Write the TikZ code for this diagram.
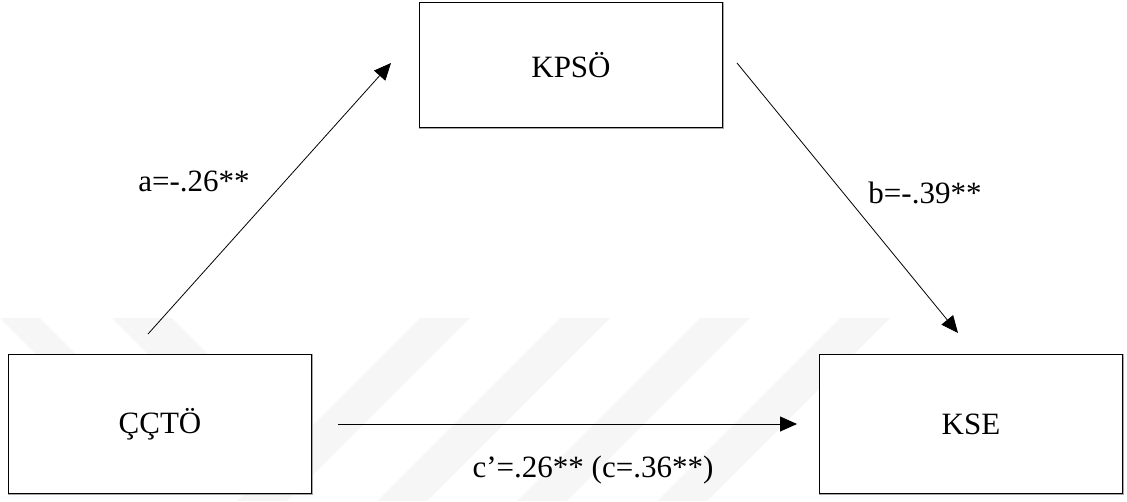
\documentclass[tikz,border=0pt]{standalone}
\usepackage{fontspec}
\setmainfont{Liberation Serif}
\usetikzlibrary{arrows.meta}
\begin{document}
\begin{tikzpicture}[x=1pt,y=-1pt,
  varbox/.style={draw=gray!70, line width=1pt, fill=white, minimum width=304pt, inner sep=0pt, font=\fontsize{31}{36}\selectfont},
  innerline/.style={draw=black, line width=0.7pt},
  conn/.style={line width=0.8pt, -{Triangle[length=17pt,width=15pt]}},
  lbl/.style={font=\fontsize{31}{36}\selectfont, inner sep=0pt},
  wm/.style={fill=gray!7, draw=none}]
\useasboundingbox (0,0) rectangle (1127,501);
% faint watermark stripes
\foreach \x in {420,560,700,840}
  \fill[wm] (\x,318) -- ++(50,0) -- ++(-183,183) -- ++(-50,0) -- cycle;
\fill[wm] (0,318) -- (40,318) -- (76,354) -- (36,354) -- cycle;
\fill[wm] (112,318) -- (172,318) -- (208,354) -- (148,354) -- cycle;
% boxes
\node[varbox, minimum height=126pt] (m) at (571,65) {KPSÖ};
\node[varbox, minimum height=140pt] (x) at (160,424) {ÇÇTÖ};
\node[varbox, minimum height=140pt] (y) at (971,424) {KSE};
\foreach \n in {m,x,y}
  \draw[innerline] ([shift={(1.3,1.3)}]\n.north west) rectangle ([shift={(-1.3,-1.3)}]\n.south east);
% connector end points
\coordinate (a0) at (148,334);
\coordinate (a1) at (391,63);
\coordinate (b0) at (737,63);
\coordinate (b1) at (958,333);
\coordinate (c0) at (338,424);
\coordinate (c1) at (797,424);
\draw[conn] (a0) -- (a1);
\draw[conn] (b0) -- (b1);
\draw[conn] (c0) -- (c1);
% labels
\node[lbl] (la) at (194,181) {a=-.26**};
\node[lbl] (lb) at (925,193) {b=-.39**};
\node[lbl] (lc) at (593,470) {c’=.26** (c=.36**)};
\end{tikzpicture}
\end{document}
